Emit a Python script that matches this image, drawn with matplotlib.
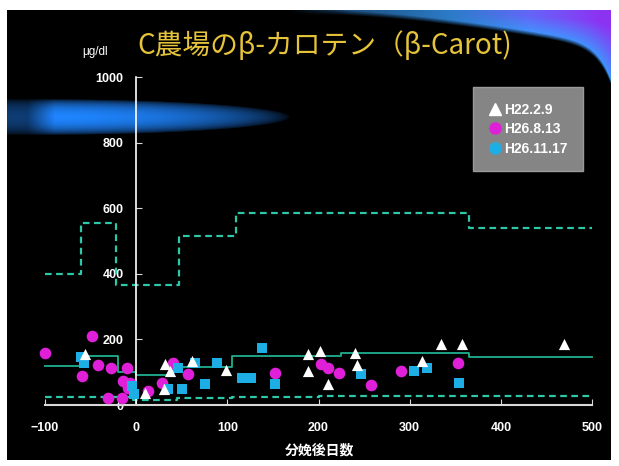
import matplotlib
matplotlib.use("Agg")
import matplotlib.pyplot as plt
from matplotlib.lines import Line2D
import numpy as np

plt.rcParams['font.family'] = ['Noto Sans CJK JP', 'DejaVu Sans']

# --- data ---
tri_x = [-56, 10, 30, 32, 37, 61, 98, 188, 188, 202, 210, 240, 242, 314, 334, 357, 469]
tri_y = [156, 37, 49, 125, 104, 133, 108, 156, 104, 165, 64, 159, 122, 134, 186, 186, 186]

mag_x = [-100, -59, -48, -42, -28, -10, -14, -9, -31, -15, -7, 13, 28, 40, 57, 152, 203, 210, 223, 258, 291, 353]
mag_y = [160, 89, 211, 122, 113, 113, 73, 52, 21, 21, 67, 43, 67, 128, 95, 98, 125, 113, 98, 62, 104, 128]

cyan_x = [-60, -57, -5, -2, 35, 46, 50, 65, 75, 89, 116, 126, 138, 152, 247, 305, 319, 354]
cyan_y = [145, 128, 58, 35, 49, 112, 49, 128, 64, 128, 82, 82, 174, 64, 95, 104, 113, 67]

# step lines: edges and level for each interval
upper_edges = [-100, -61, -22, 47, 109, 365, 500]
upper_vals = [400, 555, 366, 515, 585, 540]
mean_edges = [-100, -60, -20, 0, 40, 105, 225, 365, 500]
mean_vals = [118, 148, 100, 92, 115, 148, 158, 146]
lower_edges = [-100, -3, 45, 105, 200, 500]
lower_vals = [24, 14, 20, 25, 28]

xticks = [-100, 0, 100, 200, 300, 400, 500]
yticks = [0, 200, 400, 600, 800, 1000]

W, H = 619, 466
fig = plt.figure(figsize=(W / 100, H / 100), dpi=100, facecolor='white')

# --- background: black panel with blue glows ---
x0, x1, y0, y1 = 7, 611, 10, 460
bg = fig.add_axes([x0 / W, 1 - y1 / H, (x1 - x0) / W, (y1 - y0) / H])
bg.axis('off')
X, Y = np.meshgrid(np.arange(x0, x1) + 0.5, np.arange(y0, y1) + 0.5)
img = np.zeros(X.shape + (3,))

# left glow band
u = np.clip((X - 40) / 250, 0, None)
v = (Y - 117) / 18
d = u ** 2 + v ** 2
inten = np.clip(1 - d, 0, 1) ** 0.6
inten *= np.clip((X - 5) / 50, 0.45, 1)
img += inten[..., None] * np.array([0.12, 0.52, 1.0])

# top-right swoosh
t = np.clip((X - 330) / 281, 0, None)
yb = 15 + 35 * t ** 1.5 + 35 * t ** 20
edge = np.clip((yb - Y) / 5, 0, 1) * (X > 290)
edge *= np.clip((X - 290) / 60, 0, 1)
s = np.clip((yb - Y) / np.maximum(yb - 10, 1), 0, 1)
light = np.array([0.22, 0.62, 1.0])
purple = np.array([0.55, 0.2, 0.95])
wp = np.clip(s * 1.3, 0, 1) * np.clip((X - 450) / 150, 0, 1)
col = (1 - wp)[..., None] * light + wp[..., None] * purple
bright = 0.45 + 0.55 * np.clip((X - 330) / 200, 0, 1)
img += (edge * bright)[..., None] * col
img = np.clip(img, 0, 1)
bg.imshow(img, extent=[0, 1, 0, 1], aspect='auto', origin='upper')
bg.set_xlim(0, 1)
bg.set_ylim(0, 1)

# --- main chart ---
ax = fig.add_axes([45 / W, (H - 405) / H, 547 / W, 328 / H])
ax.set_facecolor('none')
ax.set_xlim(-100, 500)
ax.set_ylim(0, 1000)

line_col = '#2cc8a8'
ax.step(upper_edges, upper_vals + [upper_vals[-1]], where='post', color=line_col,
        lw=1.6, ls=(0, (3, 2)), zorder=2, clip_on=False)
ax.step(mean_edges, mean_vals + [mean_vals[-1]], where='post', color='#1fb090',
        lw=1.3, zorder=2, clip_on=False)
ax.step(lower_edges, lower_vals + [lower_vals[-1]], where='post', color=line_col,
        lw=1.6, ls=(0, (3, 2)), zorder=2, clip_on=False)

ax.scatter(mag_x, mag_y, s=70, marker='o', color='#e020d8', zorder=3, clip_on=False, linewidths=0)
ax.scatter(cyan_x, cyan_y, s=60, marker='s', color='#1eaee6', zorder=4, clip_on=False, linewidths=0)
ax.scatter(tri_x, tri_y, s=65, marker='^', color='white', zorder=5, clip_on=False, linewidths=0)

for sp in ['top', 'right']:
    ax.spines[sp].set_visible(False)
ax.spines['left'].set_position(('data', 0))
ax.spines['left'].set_color('white')
ax.spines['bottom'].set_color('#d8d8d8')
ax.spines['left'].set_linewidth(1.2)
ax.spines['bottom'].set_linewidth(1.5)

ax.set_xticks(xticks)
ax.set_yticks(yticks)
ax.tick_params(axis='x', direction='in', length=4, color='#d8d8d8', labelcolor='white',
               labelsize=9, pad=12)
ax.tick_params(axis='y', direction='in', length=4, color='#d8d8d8', labelcolor='white',
               labelsize=9, pad=9)
for lab in ax.get_xticklabels() + ax.get_yticklabels():
    lab.set_fontweight('bold')
    lab.set_family(['Liberation Sans', 'DejaVu Sans'])

handles = [
    Line2D([], [], marker='^', color='white', ls='none', markersize=8),
    Line2D([], [], marker='o', color='#e020d8', ls='none', markersize=8),
    Line2D([], [], marker='o', color='#1eaee6', ls='none', markersize=8),
]
leg = ax.legend(handles, ['H22.2.9', 'H26.8.13', 'H26.11.17'], loc='upper left',
                bbox_to_anchor=(0.782, 0.968), borderaxespad=0, frameon=True, fancybox=False,
                facecolor='#858585', edgecolor='#9a9a9a', framealpha=1,
                handletextpad=0.15, handlelength=1.0, borderpad=1.1, labelspacing=0.4,
                prop={'family': ['Liberation Sans', 'DejaVu Sans'], 'weight': 'bold', 'size': 10})
for t in leg.get_texts():
    t.set_color('white')

fig.text(325 / W, 1 - 46 / H, 'C農場のβ-カロテン（β-Carot)', color='#e6c43a',
         fontsize=20, ha='center', va='center')
fig.text(95 / W, 1 - 52 / H, 'μg/dl', color='white', fontsize=8.5, ha='center',
         va='center', family=['Liberation Sans', 'DejaVu Sans'])
fig.text(320 / W, 1 - 450 / H, '分娩後日数', color='white', fontsize=10,
         fontweight='bold', ha='center', va='center')

fig.savefig('out.png', dpi=100, facecolor='white')
